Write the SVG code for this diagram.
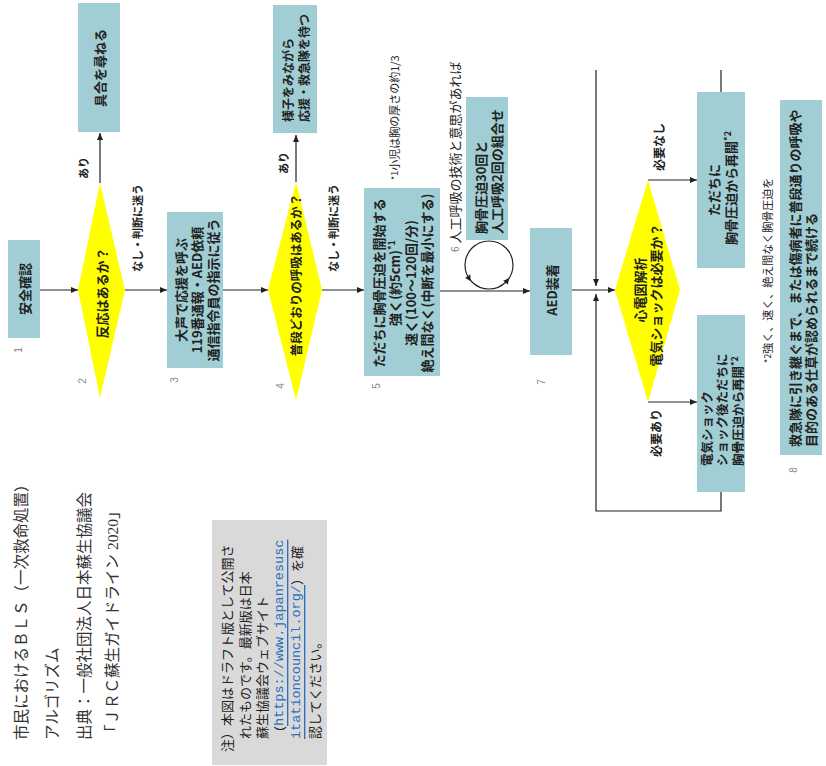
<svg xmlns="http://www.w3.org/2000/svg" width="826" height="766" viewBox="0 0 826 766">
<style>
.bx{fill:#a0ced4}
.dm{fill:#ffff00}
.t{font-family:"Noto Sans CJK JP","Noto Sans",sans-serif;font-weight:700;font-size:13px;fill:#222;dominant-baseline:central}
.m{text-anchor:middle}
.s{text-anchor:start}
.lb{font-size:11px}
.sm{font-size:11px}
.num{font-family:"Liberation Sans",sans-serif;font-size:10px;fill:#888;dominant-baseline:central;text-anchor:middle}
.ttl{font-family:"Liberation Serif","Noto Sans CJK JP",serif;font-size:15.5px;fill:#333;dominant-baseline:central;text-anchor:start}
.nt{font-family:"Noto Sans CJK JP",sans-serif;font-size:13px;fill:#222;dominant-baseline:central;text-anchor:start}
.url{font-family:"Liberation Mono",monospace;font-size:13.5px;fill:#2a6fc0;text-decoration:underline}
.cn line,.cn path,.cn polyline,.cn circle{stroke:#222;stroke-width:1.2;fill:none}
.ah{fill:#222}
</style>
<defs>
<marker id="a" markerUnits="userSpaceOnUse" markerWidth="8" markerHeight="8" refX="7" refY="4" orient="auto">
<path d="M0,1 L7,4 L0,7 Z" fill="#222"/>
</marker>
</defs>
<rect width="826" height="766" fill="#ffffff"/>

<g id="title">
<text class="ttl" transform="translate(21 740) rotate(-90)">市民におけるＢＬＳ（一次救命処置）</text>
<text class="ttl" transform="translate(52 740) rotate(-90)">アルゴリズム</text>
<text class="ttl" transform="translate(84 740) rotate(-90)">出典：一般社団法人日本蘇生協議会</text>
<text class="ttl" transform="translate(112 740) rotate(-90)">「ＪＲＣ蘇生ガイドライン 2020」</text>
</g>

<g id="note">
<rect x="212" y="520" width="115" height="245" fill="#d9d9d9"/>
<text class="nt" transform="translate(226 752) rotate(-90)">注）本図はドラフト版として公開さ</text>
<text class="nt" transform="translate(244 739) rotate(-90)">れたものです。最新版は日本</text>
<text class="nt" transform="translate(261 739) rotate(-90)">蘇生協議会ウェブサイト</text>
<text class="nt" transform="translate(279 739) rotate(-90)">（<tspan class="url">https://www.japanresusc</tspan></text>
<text class="nt" transform="translate(296 739) rotate(-90)"><tspan class="url">itationcouncil.org/</tspan>）を確</text>
<text class="nt" transform="translate(314 739) rotate(-90)">認してください。</text>
</g>

<g id="connectors" class="cn">
<line x1="40" y1="290" x2="78" y2="290" marker-end="url(#a)"/>
<line x1="100" y1="183" x2="100" y2="133" marker-end="url(#a)"/>
<line x1="125" y1="290" x2="167" y2="290" marker-end="url(#a)"/>
<line x1="223" y1="290" x2="268" y2="290" marker-end="url(#a)"/>
<line x1="296" y1="182" x2="296" y2="135" marker-end="url(#a)"/>
<line x1="322" y1="290" x2="364" y2="290" marker-end="url(#a)"/>
<line x1="440" y1="291" x2="530" y2="291" marker-end="url(#a)"/>
<circle cx="489" cy="265" r="24"/>
<line x1="572" y1="290" x2="615" y2="290" marker-end="url(#a)"/>
<line x1="596" y1="70" x2="596" y2="286" marker-end="url(#a)"/>
<polyline points="721,492 721,511 596,511 596,294" marker-end="url(#a)"/>
<line x1="721" y1="70" x2="721" y2="92"/>
<line x1="648" y1="180" x2="697" y2="180" marker-end="url(#a)"/>
<line x1="648" y1="402" x2="697" y2="402" marker-end="url(#a)"/>
<polygon class="ah" points="471,281.3 465.1,278 470.1,274.6"/>
<polygon class="ah" points="509.3,278.1 507.8,284.6 503.2,280.8"/>
</g>

<g id="labels">
<text class="t lb m" transform="translate(83 168) rotate(-90)">あり</text>
<text class="t lb m" transform="translate(137 228) rotate(-90)">なし・判断に迷う</text>
<text class="t lb m" transform="translate(283 163) rotate(-90)">あり</text>
<text class="t lb m" transform="translate(333 228) rotate(-90)">なし・判断に迷う</text>
<text class="t m" style="font-size:12px" transform="translate(658 147) rotate(-90)">必要なし</text>
<text class="t m" style="font-size:12px" transform="translate(655 433) rotate(-90)">必要あり</text>
</g>

<g id="n1">
<rect class="bx" x="8" y="240" width="32" height="98"/>
<text class="t m" transform="translate(24 289) rotate(-90)">安全確認</text>
<text class="num" transform="translate(18 350) rotate(-90)">1</text>
</g>

<g id="n2">
<polygon class="dm" points="78,290 100,183 125,290 100,398"/>
<text class="t m" transform="translate(101 293) rotate(-90)">反応はあるか？</text>
<text class="num" transform="translate(82 381) rotate(-90)">2</text>
</g>

<g id="n2a">
<rect class="bx" x="78" y="3" width="42" height="129"/>
<text class="t m" transform="translate(99 68) rotate(-90)">具合を尋ねる</text>
</g>

<g id="n3">
<rect class="bx" x="167" y="212" width="56" height="156"/>
<text class="t m" transform="translate(180 290) rotate(-90)">大声で応援を呼ぶ</text>
<text class="t m" transform="translate(196 290) rotate(-90)">119番通報・AED依頼</text>
<text class="t m" transform="translate(212 290) rotate(-90)">通信指令員の指示に従う</text>
<text class="num" transform="translate(174 380) rotate(-90)">3</text>
</g>

<g id="n4">
<polygon class="dm" points="268,290 296,182 322,290 296,400"/>
<text class="t m" style="font-size:12.5px" transform="translate(295 275) rotate(-90)">普段どおりの呼吸はあるか？</text>
<text class="num" transform="translate(280 386) rotate(-90)">4</text>
</g>

<g id="n4a">
<rect class="bx" x="273" y="5" width="44" height="128"/>
<text class="t s" style="font-size:12px" transform="translate(287 122) rotate(-90)">様子をみながら</text>
<text class="t s" style="font-size:12px" transform="translate(303 122) rotate(-90)">応援・救急隊を待つ</text>
</g>

<g id="n5">
<rect class="bx" x="364" y="188" width="76" height="188"/>
<text class="t m" transform="translate(378 283) rotate(-90)">ただちに胸骨圧迫を開始する</text>
<text class="t m" transform="translate(394 283) rotate(-90)">強く(約5cm)<tspan style="font-size:9px" dy="-3">*1</tspan></text>
<text class="t m" transform="translate(410 283) rotate(-90)">速く(100～120回/分)</text>
<text class="t m" transform="translate(426 283) rotate(-90)">絶え間なく(中断を最小にする)</text>
<text class="num" transform="translate(376 386) rotate(-90)">5</text>
<text class="t s sm" style="font-weight:400" transform="translate(394 180) rotate(-90)"><tspan style="font-size:9px">*1</tspan>小児は胸の厚さの約1/3</text>
</g>

<g id="n6">
<rect class="bx" x="466" y="97" width="42" height="143"/>
<text class="t s" transform="translate(480 234) rotate(-90)">胸骨圧迫30回と</text>
<text class="t s" transform="translate(496 234) rotate(-90)">人工呼吸2回の組合せ</text>
<text class="t s" style="font-weight:400" transform="translate(454 252) rotate(-90)"><tspan style="font-size:10px;fill:#777">6</tspan> 人工呼吸の技術と意思があれば</text>
</g>

<g id="n7">
<rect class="bx" x="530" y="228" width="42" height="127"/>
<text class="t m" transform="translate(551 290) rotate(-90)">AED装着</text>
<text class="num" transform="translate(541 382) rotate(-90)">7</text>
</g>

<g id="n8">
<polygon class="dm" points="615,290 648,180 680,290 648,402"/>
<text class="t m" transform="translate(639 290) rotate(-90)">心電図解析</text>
<text class="t m" transform="translate(655 295) rotate(-90)">電気ショックは必要か？</text>
</g>

<g id="n9">
<rect class="bx" x="697" y="92" width="48" height="176"/>
<text class="t m" transform="translate(713 190) rotate(-90)">ただちに</text>
<text class="t m" transform="translate(730 188) rotate(-90)">胸骨圧迫から再開<tspan style="font-size:9px" dy="-3">*2</tspan></text>
</g>

<g id="n10">
<rect class="bx" x="697" y="315" width="48" height="177"/>
<text class="t s" style="font-size:12.5px" transform="translate(706 466) rotate(-90)">電気ショック</text>
<text class="t s" style="font-size:12.5px" transform="translate(721 466) rotate(-90)">ショック後ただちに</text>
<text class="t s" style="font-size:12.5px" transform="translate(737 466) rotate(-90)">胸骨圧迫から再開<tspan style="font-size:9px" dy="-3">*2</tspan></text>
</g>

<g id="n11">
<text class="t s sm" style="font-weight:400" transform="translate(767 363) rotate(-90)"><tspan style="font-size:9px">*2</tspan>強く、速く、絶え間なく胸骨圧迫を</text>
<rect class="bx" x="780" y="100" width="42" height="355"/>
<text class="t s" transform="translate(794 447) rotate(-90)">救急隊に引き継ぐまで、または傷病者に普段通りの呼吸や</text>
<text class="t s" transform="translate(810 447) rotate(-90)">目的のある仕草が認められるまで続ける</text>
<text class="num" transform="translate(793 470) rotate(-90)">8</text>
</g>
</svg>
